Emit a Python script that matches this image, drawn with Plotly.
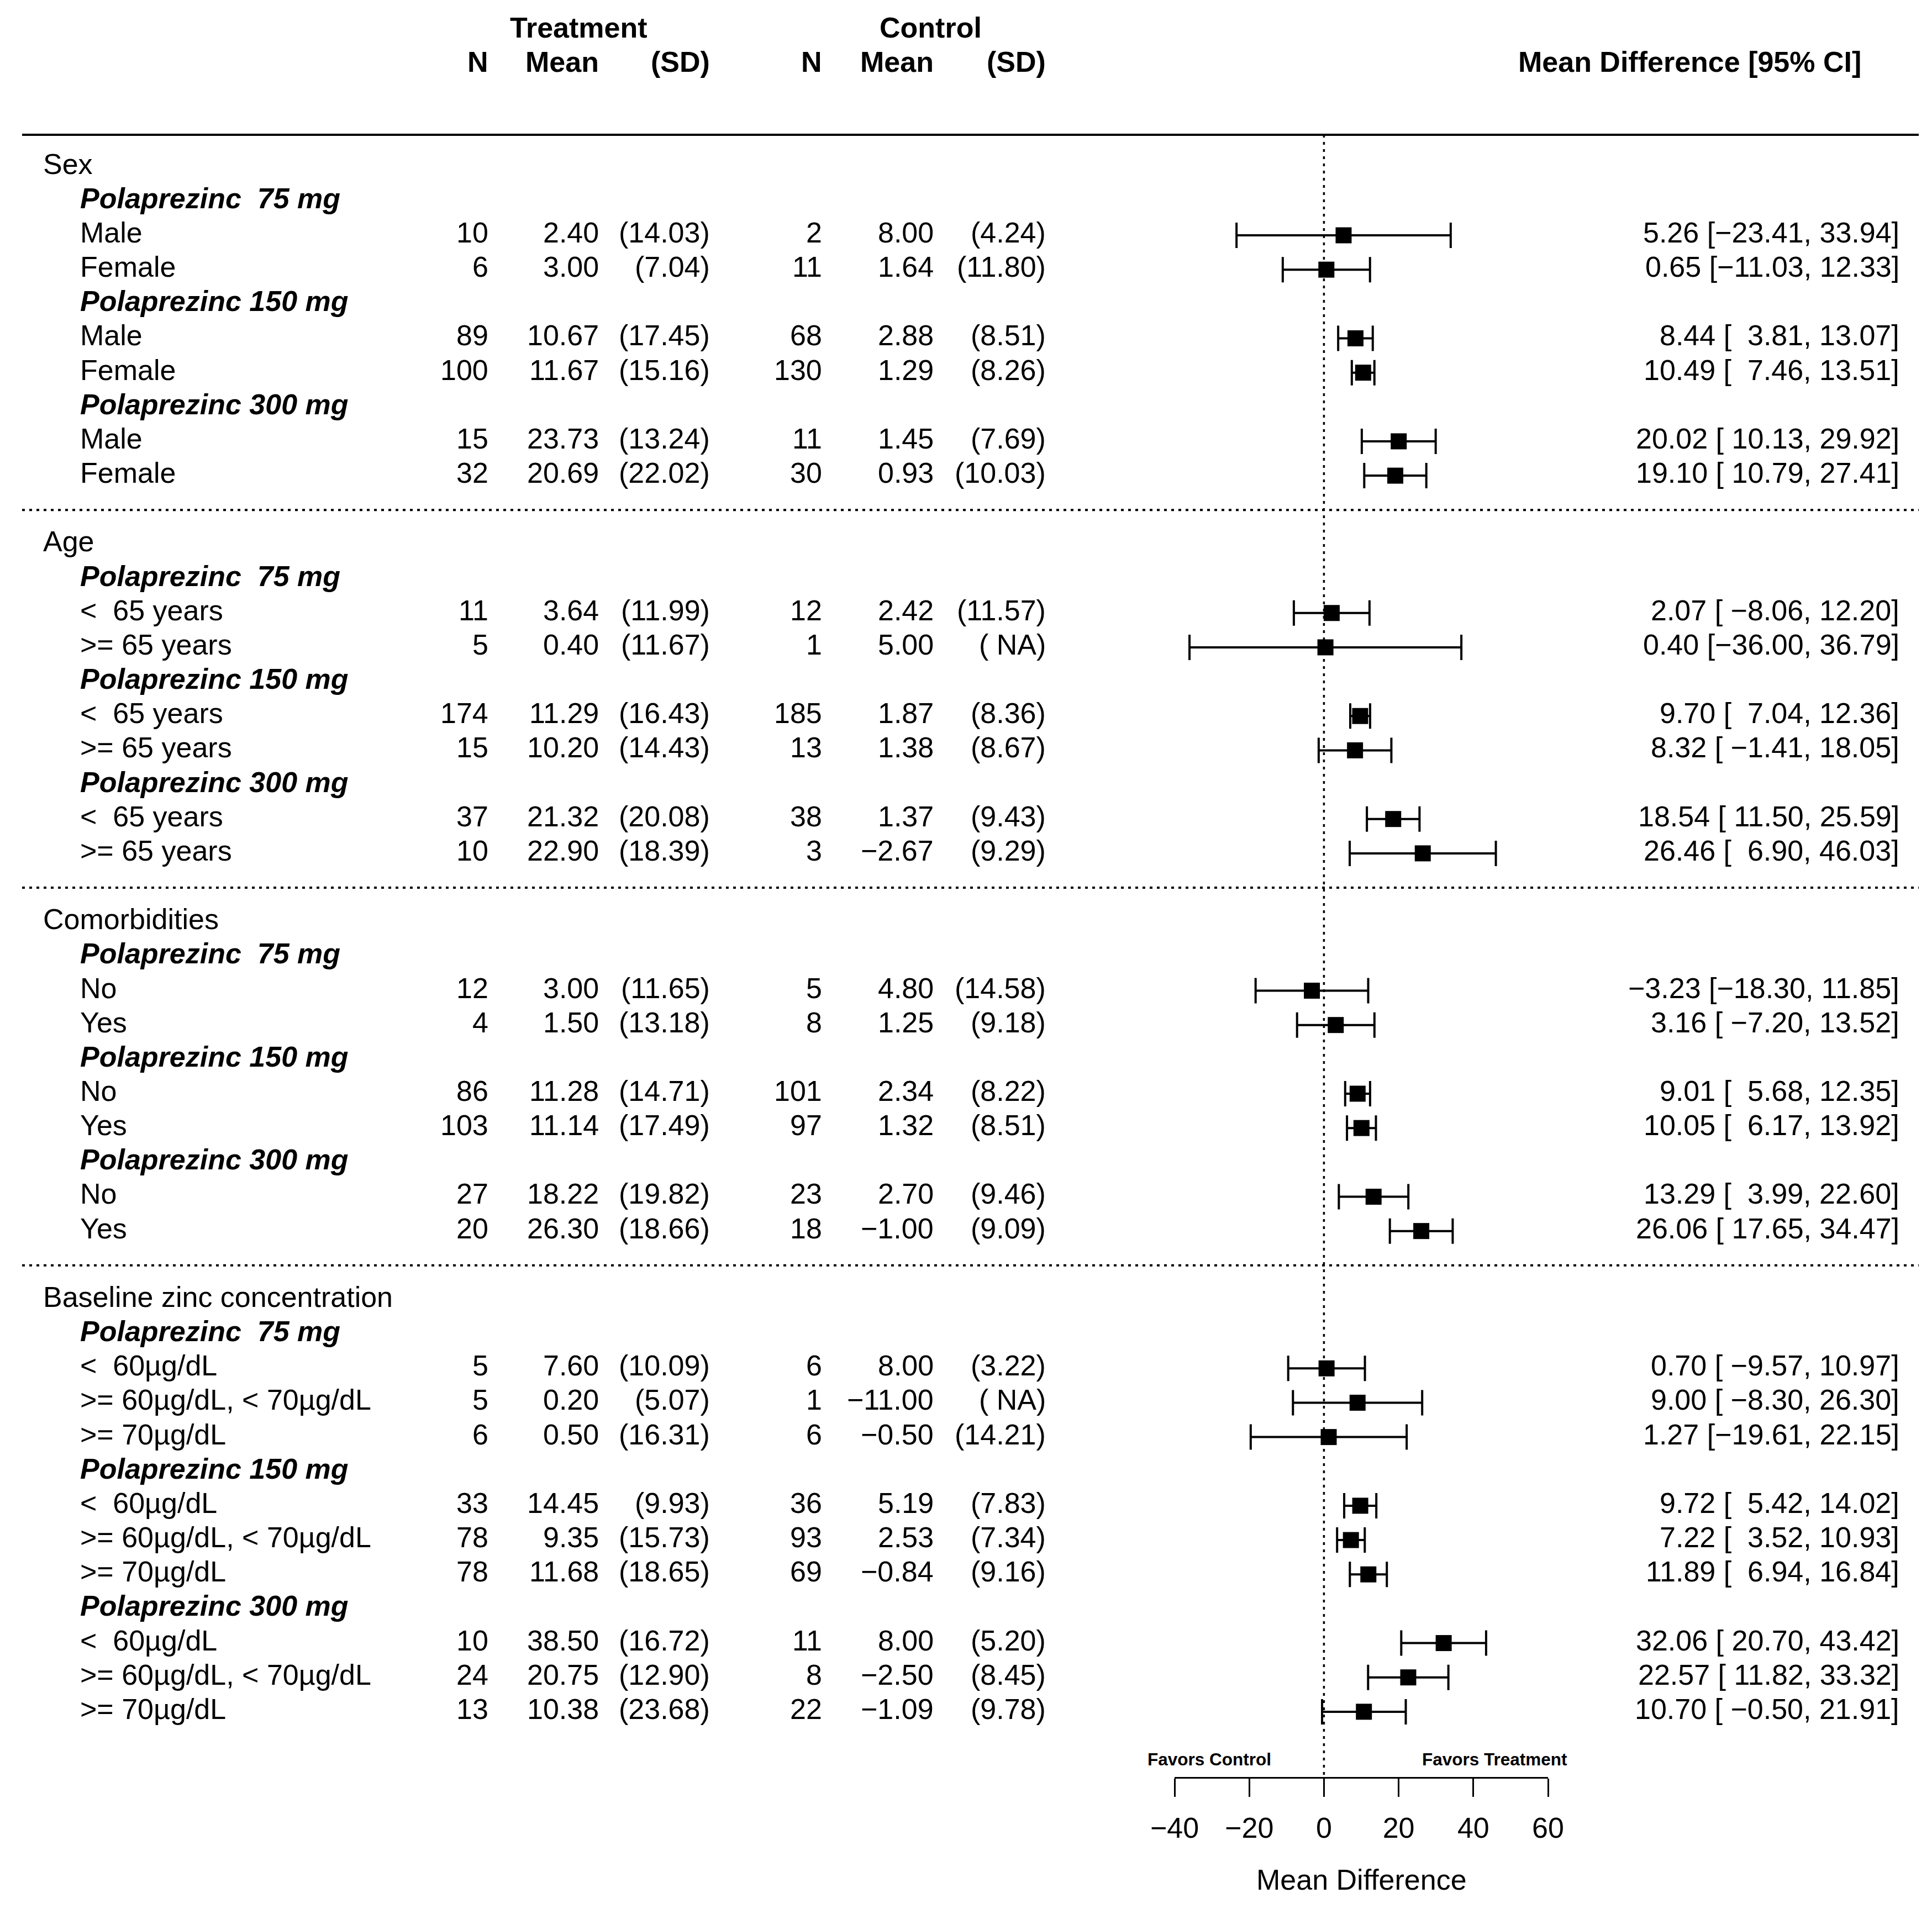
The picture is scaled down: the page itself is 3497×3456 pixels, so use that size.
import plotly.graph_objects as go

# ---------------- data ----------------
group_names = ["Sex", "Age", "Comorbidities", "Baseline zinc concentration"]
dose_names = ["Polaprezinc  75 mg", "Polaprezinc 150 mg", "Polaprezinc 300 mg"]
level_names = [
    ["Male", "Female"],
    ["<  65 years", ">= 65 years"],
    ["No", "Yes"],
    ["<  60µg/dL", ">= 60µg/dL, < 70µg/dL", ">= 70µg/dL"],
]

trt_n = [10, 6, 89, 100, 15, 32,
         11, 5, 174, 15, 37, 10,
         12, 4, 86, 103, 27, 20,
         5, 5, 6, 33, 78, 78, 10, 24, 13]
trt_mean = [2.40, 3.00, 10.67, 11.67, 23.73, 20.69,
            3.64, 0.40, 11.29, 10.20, 21.32, 22.90,
            3.00, 1.50, 11.28, 11.14, 18.22, 26.30,
            7.60, 0.20, 0.50, 14.45, 9.35, 11.68, 38.50, 20.75, 10.38]
trt_sd = [14.03, 7.04, 17.45, 15.16, 13.24, 22.02,
          11.99, 11.67, 16.43, 14.43, 20.08, 18.39,
          11.65, 13.18, 14.71, 17.49, 19.82, 18.66,
          10.09, 5.07, 16.31, 9.93, 15.73, 18.65, 16.72, 12.90, 23.68]
ctl_n = [2, 11, 68, 130, 11, 30,
         12, 1, 185, 13, 38, 3,
         5, 8, 101, 97, 23, 18,
         6, 1, 6, 36, 93, 69, 11, 8, 22]
ctl_mean = [8.00, 1.64, 2.88, 1.29, 1.45, 0.93,
            2.42, 5.00, 1.87, 1.38, 1.37, -2.67,
            4.80, 1.25, 2.34, 1.32, 2.70, -1.00,
            8.00, -11.00, -0.50, 5.19, 2.53, -0.84, 8.00, -2.50, -1.09]
ctl_sd = [4.24, 11.80, 8.51, 8.26, 7.69, 10.03,
          11.57, None, 8.36, 8.67, 9.43, 9.29,
          14.58, 9.18, 8.22, 8.51, 9.46, 9.09,
          3.22, None, 14.21, 7.83, 7.34, 9.16, 5.20, 8.45, 9.78]
md = [5.26, 0.65, 8.44, 10.49, 20.02, 19.10,
      2.07, 0.40, 9.70, 8.32, 18.54, 26.46,
      -3.23, 3.16, 9.01, 10.05, 13.29, 26.06,
      0.70, 9.00, 1.27, 9.72, 7.22, 11.89, 32.06, 22.57, 10.70]
ci_lo = [-23.41, -11.03, 3.81, 7.46, 10.13, 10.79,
         -8.06, -36.00, 7.04, -1.41, 11.50, 6.90,
         -18.30, -7.20, 5.68, 6.17, 3.99, 17.65,
         -9.57, -8.30, -19.61, 5.42, 3.52, 6.94, 20.70, 11.82, -0.50]
ci_hi = [33.94, 12.33, 13.07, 13.51, 29.92, 27.41,
         12.20, 36.79, 12.36, 18.05, 25.59, 46.03,
         11.85, 13.52, 12.35, 13.92, 22.60, 34.47,
         10.97, 26.30, 22.15, 14.02, 10.93, 16.84, 43.42, 33.32, 21.91]
x_ticks = [-40, -20, 0, 20, 40, 60]

# ---------------- layout constants ----------------
W, H = 3497, 3456
OFF = 8                      # page body margin compensation
FONT = "Liberation Sans, Arial, Helvetica, sans-serif"
FS = 52
ROW_H = 62.16
ROW2_PX = 426                # page y of row 2
AXIS_PX = 3217               # page y of axis line
Y_TOP = 2 - (ROW2_PX - OFF) / ROW_H
AXIS_ROW = 2 + (AXIS_PX - ROW2_PX) / ROW_H
PLOT_H = AXIS_PX - OFF
B_MARGIN = H - PLOT_H
X_LEFT_PX, X_RIGHT_PX = 2126, 2802
ROW_TEXT_SHIFT = 5

MINUS = "\u2212"
NB = "\u00a0"


def f2(v):
    s = f"{abs(v):.2f}"
    return (MINUS + s) if v < 0 else s


def px(x):
    return (x - OFF) / W


annotations = []


def txt(xpx, row, s, anchor="right", size=FS, yshift=0):
    annotations.append(dict(
        x=px(xpx), xref="paper", y=row, yref="y", text=s, showarrow=False,
        xanchor=anchor, yanchor="middle", yshift=yshift,
        font=dict(family=FONT, size=size, color="black"),
    ))


# columns (pixel right edges)
C_TN, C_TM, C_TSD = 886, 1086, 1287
C_CN, C_CM, C_CSD = 1490, 1692, 1895
C_CI = 3440
X_GROUP, X_SUB = 76, 143

# headers
txt(1047, -4.05, "<b>Treatment</b>", "center")
txt(1684, -4.05, "<b>Control</b>", "center")
for xr, s in [(C_TN, "N"), (C_TM, "Mean"), (C_TSD, "(SD)"),
              (C_CN, "N"), (C_CM, "Mean"), (C_CSD, "(SD)")]:
    txt(xr, -3.05, f"<b>{s}</b>")
txt(3371, -3.05, "<b>Mean Difference [95% CI]</b>")

# rows
S = ROW_TEXT_SHIFT
row = 0
data_rows = []
sep_rows = []
k = 0
for gi, g in enumerate(group_names):
    txt(X_GROUP, row, g, "left", yshift=S)
    row += 1
    for d in dose_names:
        txt(X_SUB, row, f"<b><i>{d}</i></b>", "left", yshift=S)
        row += 1
        for lv in level_names[gi]:
            txt(X_SUB, row, lv, "left", yshift=S)
            txt(C_TN, row, str(trt_n[k]), yshift=S)
            txt(C_TM, row, f2(trt_mean[k]), yshift=S)
            txt(C_TSD, row, f"({f2(trt_sd[k])})", yshift=S)
            txt(C_CN, row, str(ctl_n[k]), yshift=S)
            txt(C_CM, row, f2(ctl_mean[k]), yshift=S)
            sd = ctl_sd[k]
            txt(C_CSD, row, f"({f2(sd)})" if sd is not None else f"({NB}NA)", yshift=S)
            est_s, lo_s, hi_s = f2(md[k]), f2(ci_lo[k]), f2(ci_hi[k])
            lo_s = NB * max(0, 6 - len(lo_s)) + lo_s
            txt(C_CI, row, f"{est_s} [{lo_s}, {hi_s}]", yshift=S)
            data_rows.append(row)
            k += 1
            row += 1
    if gi < len(group_names) - 1:
        sep_rows.append(row)
        row += 1

# favors labels + axis title
FAV_ROW = 2 + (3185 - ROW2_PX) / ROW_H
txt(2075, FAV_ROW, "<b>Favors Control</b>", "left", size=31.5)
txt(2839, FAV_ROW, "<b>Favors Treatment</b>", "right", size=31.5)
annotations.append(dict(
    x=px((X_LEFT_PX + X_RIGHT_PX) / 2), xref="paper",
    y=(AXIS_PX - 3403) / PLOT_H, yref="paper",
    text="Mean Difference", showarrow=False, xanchor="center", yanchor="middle",
    font=dict(family=FONT, size=FS, color="black"),
))

# ---------------- shapes ----------------
TOP_ROW = 2 + (244 - ROW2_PX) / ROW_H
shapes = [
    dict(type="line", xref="paper", yref="y", x0=px(40), x1=px(3473),
         y0=TOP_ROW, y1=TOP_ROW, line=dict(color="black", width=4)),
    dict(type="line", xref="x", yref="y", x0=0, x1=0, y0=TOP_ROW, y1=AXIS_ROW,
         line=dict(color="black", width=3.5, dash="5px,8px")),
]
for r in sep_rows:
    shapes.append(dict(type="line", xref="paper", yref="y", x0=px(40), x1=px(3473),
                       y0=r, y1=r, line=dict(color="black", width=4, dash="5px,8px")))

# ---------------- figure ----------------
fig = go.Figure()
fig.add_trace(go.Scatter(
    x=md, y=data_rows, mode="markers",
    marker=dict(symbol="square", size=29, color="black", line=dict(width=0)),
    error_x=dict(type="data", symmetric=False,
                 array=[h - m for h, m in zip(ci_hi, md)],
                 arrayminus=[m - l for m, l in zip(md, ci_lo)],
                 color="black", thickness=4, width=23),
    cliponaxis=False, showlegend=False, hoverinfo="skip",
))

fig.update_layout(
    width=W, height=H, autosize=False,
    margin=dict(l=0, r=0, t=0, b=B_MARGIN, pad=0, autoexpand=False),
    paper_bgcolor="white", plot_bgcolor="white",
    font=dict(family=FONT, size=FS, color="black"),
    xaxis=dict(
        domain=[px(X_LEFT_PX), px(X_RIGHT_PX)], range=[-40, 60],
        tickmode="array", tickvals=x_ticks,
        ticktext=[f"{MINUS}{abs(t)}" if t < 0 else str(t) for t in x_ticks],
        ticks="outside", ticklen=33, tickwidth=3, tickcolor="black",
        showline=True, linewidth=3, linecolor="black",
        showgrid=False, zeroline=False, anchor="y", automargin=False,
        tickfont=dict(family=FONT, size=FS, color="black"),
        ticklabelstandoff=12,
        fixedrange=True,
    ),
    yaxis=dict(range=[AXIS_ROW, Y_TOP], visible=False, domain=[0, 1],
               showgrid=False, zeroline=False, fixedrange=True, automargin=False),
    shapes=shapes,
    annotations=annotations,
)

fig.write_html("out.html")
